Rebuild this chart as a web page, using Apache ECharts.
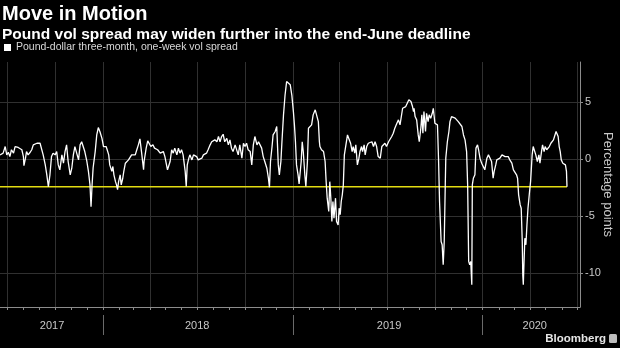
<!DOCTYPE html>
<html><head><meta charset="utf-8">
<script src="https://cdn.jsdelivr.net/npm/echarts@6/dist/echarts.min.js"></script>
<style>html,body{margin:0;padding:0;background:#000;}#chart{width:620px;height:348px;}</style>
</head><body><div id="chart"></div>
<script>
const titleText = 'Move in Motion';
const subtitleText = 'Pound vol spread may widen further into the end-June deadline';
const seriesName = 'Pound-dollar three-month, one-week vol spread';
const yAxisName = 'Percentage points';

const dates = [
'2017-06-17','2017-06-20','2017-06-23','2017-06-27','2017-06-30','2017-07-03','2017-07-06','2017-07-09','2017-07-13','2017-07-16',
'2017-07-19','2017-07-22','2017-07-25','2017-07-29','2017-08-01','2017-08-02','2017-08-05','2017-08-07','2017-08-10','2017-08-14',
'2017-08-17','2017-08-20','2017-08-23','2017-08-27','2017-08-30','2017-09-02','2017-09-05','2017-09-08','2017-09-12','2017-09-15',
'2017-09-18','2017-09-21','2017-09-24','2017-09-27','2017-10-01','2017-10-04','2017-10-07','2017-10-10','2017-10-14','2017-10-17',
'2017-10-20','2017-10-23','2017-10-26','2017-10-30','2017-11-02','2017-11-05','2017-11-08','2017-11-11','2017-11-15','2017-11-18',
'2017-11-21','2017-11-24','2017-11-27','2017-12-01','2017-12-04','2017-12-07','2017-12-09','2017-12-11','2017-12-13','2017-12-17',
'2017-12-20','2017-12-23','2017-12-26','2017-12-30',
'2018-01-02','2018-01-04','2018-01-07','2018-01-09','2018-01-12','2018-01-14','2018-01-18','2018-01-20','2018-01-22','2018-01-25',
'2018-01-27','2018-01-29','2018-01-31','2018-02-03','2018-02-05','2018-02-08','2018-02-10','2018-02-13','2018-02-16','2018-02-19',
'2018-02-22','2018-02-25','2018-02-28','2018-03-04','2018-03-07','2018-03-10','2018-03-13','2018-03-16','2018-03-20','2018-03-21',
'2018-03-25','2018-03-28','2018-03-31','2018-04-03','2018-04-07','2018-04-10','2018-04-13','2018-04-16','2018-04-19','2018-04-21',
'2018-04-24','2018-04-27','2018-04-30','2018-05-03','2018-05-05','2018-05-08','2018-05-10','2018-05-13','2018-05-16','2018-05-19',
'2018-05-23','2018-05-26','2018-05-29','2018-06-01','2018-06-04','2018-06-08','2018-06-10','2018-06-12','2018-06-15','2018-06-17',
'2018-06-21','2018-06-24','2018-06-27','2018-06-30','2018-07-03','2018-07-06','2018-07-10','2018-07-13','2018-07-16','2018-07-19',
'2018-07-22','2018-07-26','2018-07-29','2018-08-01','2018-08-04','2018-08-08','2018-08-11','2018-08-14','2018-08-17','2018-08-20',
'2018-08-23','2018-08-27','2018-08-30','2018-09-02','2018-09-05','2018-09-08','2018-09-12','2018-09-15','2018-09-18','2018-09-21',
'2018-09-25','2018-09-28','2018-10-01','2018-10-04','2018-10-07','2018-10-11','2018-10-14','2018-10-17','2018-10-20','2018-10-24',
'2018-10-27','2018-10-30','2018-11-02','2018-11-05','2018-11-08','2018-11-12','2018-11-15','2018-11-17','2018-11-19','2018-11-22',
'2018-11-24','2018-11-28','2018-12-01','2018-12-03','2018-12-04','2018-12-06','2018-12-09','2018-12-11','2018-12-14','2018-12-17',
'2018-12-20','2018-12-23','2018-12-27','2018-12-30',
'2019-01-02','2019-01-04','2019-01-06','2019-01-08','2019-01-11','2019-01-13','2019-01-17','2019-01-19','2019-01-21','2019-01-24',
'2019-01-26','2019-01-29','2019-01-31','2019-02-03','2019-02-06','2019-02-09','2019-02-13','2019-02-16','2019-02-19','2019-02-21',
'2019-02-22','2019-02-25','2019-03-01','2019-03-04','2019-03-06','2019-03-08','2019-03-11','2019-03-13','2019-03-15','2019-03-17',
'2019-03-19','2019-03-21','2019-03-24','2019-03-26','2019-03-29','2019-03-31','2019-04-02','2019-04-04','2019-04-06','2019-04-08',
'2019-04-10','2019-04-13','2019-04-16','2019-04-19','2019-04-22','2019-04-25','2019-04-27','2019-04-30','2019-05-02','2019-05-05',
'2019-05-08','2019-05-10','2019-05-13','2019-05-15','2019-05-18','2019-05-20','2019-05-23','2019-05-26','2019-05-29','2019-06-02',
'2019-06-05','2019-06-08','2019-06-11','2019-06-14','2019-06-18','2019-06-21','2019-06-24','2019-06-27','2019-06-30','2019-07-04',
'2019-07-07','2019-07-10','2019-07-13','2019-07-16','2019-07-20','2019-07-23','2019-07-26','2019-07-29','2019-07-31','2019-08-03',
'2019-08-06','2019-08-09','2019-08-12','2019-08-16','2019-08-19','2019-08-21','2019-08-22','2019-08-24','2019-08-27','2019-08-30',
'2019-09-01','2019-09-04','2019-09-06','2019-09-08','2019-09-10','2019-09-13','2019-09-15','2019-09-18','2019-09-20','2019-09-23',
'2019-09-26','2019-09-28','2019-10-01','2019-10-03','2019-10-06','2019-10-08','2019-10-10','2019-10-13','2019-10-15','2019-10-17',
'2019-10-19','2019-10-21','2019-10-22','2019-10-25','2019-10-28','2019-10-30','2019-11-02','2019-11-05','2019-11-09','2019-11-12',
'2019-11-15','2019-11-18','2019-11-22','2019-11-25','2019-11-28','2019-12-01','2019-12-03','2019-12-05','2019-12-07','2019-12-09',
'2019-12-11','2019-12-12','2019-12-14','2019-12-17','2019-12-19','2019-12-22','2019-12-24','2019-12-27','2019-12-30',
'2020-01-02','2020-01-05','2020-01-09','2020-01-12','2020-01-15','2020-01-18','2020-01-21','2020-01-23','2020-01-26','2020-01-28',
'2020-01-31','2020-02-03','2020-02-07','2020-02-10','2020-02-13','2020-02-16','2020-02-19','2020-02-22','2020-02-26','2020-02-29',
'2020-03-03','2020-03-06','2020-03-08','2020-03-10','2020-03-13','2020-03-15','2020-03-17','2020-03-18','2020-03-19','2020-03-20',
'2020-03-22','2020-03-24','2020-03-26','2020-03-28','2020-03-31','2020-04-02','2020-04-05','2020-04-07','2020-04-10','2020-04-12',
'2020-04-15','2020-04-18','2020-04-20','2020-04-23','2020-04-25','2020-04-28','2020-04-30','2020-05-03','2020-05-06','2020-05-08',
'2020-05-11','2020-05-13','2020-05-16','2020-05-18','2020-05-21','2020-05-23','2020-05-25','2020-05-27','2020-05-29','2020-05-31',
'2020-06-03','2020-06-05','2020-06-08','2020-06-10','2020-06-11'
];

const spread = [
0.35,0.2,0.5,1.08,0.35,0.58,0.2,0.8,0.5,1.08,
1.17,1.0,1.08,0.8,0.2,-0.6,0.06,0.64,0.35,0.58,
0.8,1.23,1.08,1.37,1.23,1.37,1.23,0.35,-0.53,-1.4,
-2.45,-1.4,0.2,0.5,0.35,0.64,-0.53,-0.96,0.35,-0.38,
0.64,1.23,-0.23,-1.4,-0.82,0.35,1.08,1.23,-0.09,1.23,
1.5,1.37,0.64,-0.23,-1.1,-2.28,-4.2,-2.3,-0.8,0.64,
2.1,2.75,2.4,1.8,
1.08,1.23,1.08,0.8,0.35,-0.53,-1.1,-0.67,-1.4,-2.0,
-2.28,-2.7,-2.0,-1.4,-2.28,-1.7,-1.1,-0.38,-0.53,-0.09,
0.06,0.35,0.5,0.35,0.8,1.23,1.75,0.64,-0.96,-0.23,
0.94,1.58,1.58,1.08,1.23,0.94,1.0,0.8,0.64,0.5,
0.35,0.64,0.2,0.35,-0.96,-1.1,-0.23,0.8,0.5,0.94,
0.35,0.94,0.5,0.8,0.35,-1.1,-2.43,-0.53,0.06,0.35,
-0.09,0.35,0.5,0.2,-0.09,-0.23,0.06,0.35,0.35,0.5,
0.8,1.23,1.5,1.37,1.67,1.5,1.96,1.5,1.96,2.16,
1.5,1.8,1.23,1.67,0.94,0.64,1.23,1.08,0.35,1.23,
0.06,1.37,1.08,1.37,0.8,0.64,-0.53,1.23,1.96,1.23,
1.5,1.37,0.94,0.2,-0.23,-0.82,-1.7,-2.5,-0.23,1.08,
2.1,2.4,2.84,2.98,-0.53,-1.4,-0.23,1.5,3.86,5.6,
6.78,6.84,6.5,5.6,
4.15,2.98,1.5,-0.53,-1.4,-2.2,-0.23,1.5,0.64,-1.4,
-2.43,-0.23,2.69,2.84,2.98,3.86,4.3,4.15,3.27,1.5,
1.08,0.8,0.64,-0.23,-2.0,-3.45,-4.62,-2.0,-3.45,-5.5,
-3.74,-5.2,-3.45,-5.5,-5.8,-4.33,-4.9,-3.74,-3.16,-2.28,
0.35,1.23,2.1,1.96,1.37,0.64,1.08,0.5,1.23,-0.53,
0.06,0.64,1.08,0.64,1.23,0.35,1.08,1.37,1.23,1.5,
1.08,1.5,1.08,0.2,0.06,1.08,1.23,1.37,1.08,1.5,
1.37,1.96,2.25,2.69,3.13,3.42,2.98,2.84,4.44,4.44,
4.59,4.74,5.18,5.03,4.59,4.15,4.44,3.71,3.42,2.1,
1.5,2.69,3.86,2.25,4.15,2.4,4.0,3.27,3.86,3.57,
4.0,4.44,3.13,3.13,2.98,0.06,-3.74,-7.25,-7.54,-9.3,
-7.25,-2.28,0.06,1.5,2.4,3.27,3.71,3.86,3.57,3.42,
3.27,3.27,2.84,2.1,1.67,0.64,-2.28,-9.0,-9.3,-9.0,
-11.05,-2.28,-1.7,-1.4,0.94,1.23,0.8,0.0,-0.38,
-0.67,-0.96,0.06,0.35,0.2,-0.23,-1.7,-1.1,-0.53,-0.09,
0.06,0.06,0.35,0.5,0.2,0.2,0.2,-0.09,-0.38,-0.96,
-1.1,-1.4,-1.7,-3.16,-4.04,-4.33,-7.25,-10.2,-11.05,-9.6,
-6.96,-7.54,-5.8,-4.33,-2.87,-2.0,0.35,1.08,0.94,0.35,
-0.23,0.35,-0.38,0.64,1.23,0.64,1.08,0.8,0.94,1.08,
1.37,1.23,1.67,1.96,2.4,2.45,1.96,1.08,0.64,-0.09,
-0.38,-0.38,-0.53,-1.1,-2.45
];

const yTickValues = [-10, -5, 0, 5];
const yearLabels = ['2017', '2018', '2019', '2020'];
const yearLabelDates = ['2017-09-25', '2018-07-01', '2019-07-05', '2020-04-10'];
const yearStarts = ['2018-01-01', '2019-01-01', '2020-01-01'];
const quarterStarts = ['2017-07-01','2017-10-01','2018-01-01','2018-04-01','2018-07-01','2018-10-01',
  '2019-01-01','2019-04-01','2019-07-01','2019-10-01','2020-01-01','2020-04-01','2020-07-01'];
const axisStart = '2017-06-17';
const axisEnd = '2020-07-06';

function ts(s) { const p = s.split('-').map(Number); return Date.UTC(p[0], p[1] - 1, p[2]); }
const monthTicks = [];
for (let y = 2017, m = 6; y < 2020 || (y === 2020 && m <= 6); ) {
  monthTicks.push(Date.UTC(y, m, 1));
  m++; if (m > 11) { m = 0; y++; }
}

const lineData = dates.map((d, i) => [ts(d), spread[i]]);
const latest = spread[spread.length - 1];
const latestLine = [[ts(dates[0]), latest], [ts(dates[dates.length - 1]), latest]];
const yearLabelTs = yearLabelDates.map(ts);

const FONT = 'Liberation Sans';
const gridCol = '#303030';
const axisCol = '#8c8c8c';
const labelCol = '#c8c8c8';

const chart = echarts.init(document.getElementById('chart'), null, { renderer: 'canvas' });
const xBase = { type: 'value', gridIndex: 0, min: ts(axisStart), max: ts(axisEnd), position: 'bottom', scale: true };
chart.setOption({
  backgroundColor: '#000',
  animation: false,
  textStyle: { fontFamily: FONT },
  title: [
    { text: titleText, left: 2, top: 4, padding: 0,
      textStyle: { color: '#fff', fontSize: 20, fontWeight: 'bold', fontFamily: FONT } },
    { text: subtitleText, left: 2, top: 27, padding: 0,
      textStyle: { color: '#fff', fontSize: 15.5, fontWeight: 'bold', fontFamily: FONT } }
  ],
  legend: {
    data: [seriesName], left: 4, top: 42, padding: 0,
    icon: 'rect', itemWidth: 7, itemHeight: 7, itemGap: 4,
    textStyle: { color: '#d8d8d8', fontSize: 10.5, fontFamily: FONT }
  },
  grid: { left: 0, right: 40, top: 62, bottom: 41, containLabel: false, outerBoundsMode: 'none' },
  xAxis: [
    Object.assign({}, xBase, {
      axisLine: { show: true, onZero: false, lineStyle: { color: axisCol, width: 1 } },
      axisTick: { show: true, customValues: monthTicks, length: 3, lineStyle: { color: axisCol } },
      axisLabel: { show: true, customValues: yearLabelTs, color: labelCol, fontSize: 11, margin: 13,
        formatter: (v) => { const i = yearLabelTs.indexOf(v); return i >= 0 ? yearLabels[i] : ''; } },
      splitLine: { show: false }
    }),
    Object.assign({}, xBase, {
      offset: 8,
      axisLine: { show: false, onZero: false },
      axisTick: { show: true, customValues: yearStarts.map(ts), length: 20, lineStyle: { color: '#6a6a6a' } },
      axisLabel: { show: false },
      splitLine: { show: false }
    }),
    Object.assign({}, xBase, {
      axisLine: { show: false, onZero: false },
      axisTick: { show: false, customValues: quarterStarts.map(ts) },
      axisLabel: { show: false },
      splitLine: { show: true, lineStyle: { color: gridCol, width: 1 } }
    })
  ],
  yAxis: {
    type: 'value', position: 'right', min: -13, max: 8.5,
    axisLine: { show: true, lineStyle: { color: axisCol } },
    axisTick: { show: true, customValues: yTickValues, length: 3, lineStyle: { color: axisCol } },
    axisLabel: { customValues: yTickValues, color: labelCol, fontSize: 11, margin: 5 },
    splitLine: { show: true, lineStyle: { color: gridCol, width: 1 } },
    name: yAxisName, nameLocation: 'middle', nameRotate: -90, nameGap: 21, nameMoveOverlap: false,
    nameTextStyle: { color: labelCol, fontSize: 13, fontFamily: FONT }
  },
  graphic: [
    { type: 'text', right: 14, top: 333, style: { text: 'Bloomberg', fill: '#e6e6e6', font: 'bold 11.5px "Liberation Sans"' } },
    { type: 'rect', right: 3, top: 334, shape: { width: 8, height: 9, r: 1.5 }, style: { fill: '#bdbdbd' } }
  ],
  series: [
    { name: seriesName, type: 'line', xAxisIndex: 0, data: lineData, showSymbol: false, symbol: 'none',
      color: '#ffffff', lineStyle: { color: '#ffffff', width: 1.3 }, z: 4 },
    { name: 'Latest', type: 'line', xAxisIndex: 0, data: latestLine, showSymbol: false, symbol: 'none',
      lineStyle: { color: '#e3dc12', width: 1.6 }, z: 3, silent: true }
  ]
});
</script></body></html>
